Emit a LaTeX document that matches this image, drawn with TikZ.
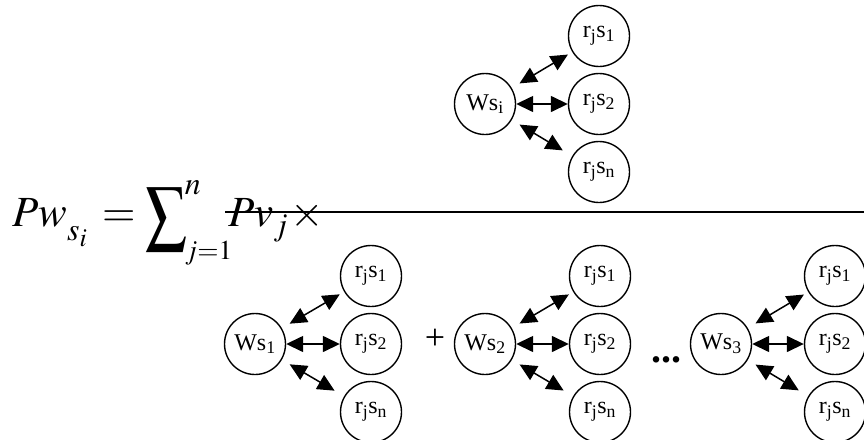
\documentclass[tikz,border=0pt]{standalone}
\usepackage{mathptmx}
\usepackage{graphicx}
\usepackage{fontspec}
\setmainfont{Liberation Serif}
\usetikzlibrary{arrows.meta}
\tikzset{
  circ/.style={circle, draw, line width=1.4pt, minimum size=61pt, inner sep=0pt,
    font=\fontsize{24}{26}\selectfont},
  biarrow/.style={{Triangle[length=17pt,width=16pt]}-{Triangle[length=17pt,width=16pt]}, line width=1.5pt},
  bar/.style={line width=1.5pt},
  sym/.style={inner sep=0pt, font=\fontsize{36}{38}\selectfont},
}
\begin{document}
\begin{tikzpicture}[x=1pt,y=-1pt]
\useasboundingbox (0,0) rectangle (864,439);
% equation
\node[anchor=base west, inner sep=0pt, font=\fontsize{43}{47}\selectfont] (eq) at (12,226)
  {$\displaystyle Pw_{\raisebox{-8pt}{$\scriptstyle s_i$}}\, =
   \mathop{\raisebox{-6pt}{\scalebox{0.95}[1.2]{$\displaystyle\sum$}}\kern-2pt}\nolimits_{\raisebox{-7pt}{\fontsize{37}{40}\selectfont$\scriptstyle j{=}1$}}^{\raisebox{5pt}{$\scriptstyle n$}}
   \!\! Pv_{\raisebox{-3pt}{$\scriptstyle j$}}\mkern1mu{\times}$};
\coordinate (barL) at (225,212);
\coordinate (barR) at (864,212);
\draw[bar] (barL) -- (barR);
% groups
\foreach \g/\wx/\rx/\yy/\lab in {t/485/599/104/i, a/255/371/344/1, b/485/600/344/2, c/721/835/344/3}{
  \node[circ] (w\g) at (\wx,\yy) {Ws\textsubscript{\lab}};
  \node[circ] (r\g1) at (\rx,\yy-68) {r\textsubscript{j}s\textsubscript{1}};
  \node[circ] (r\g2) at (\rx,\yy) {r\textsubscript{j}s\textsubscript{2}};
  \node[circ] (r\g3) at (\rx,\yy+68) {r\textsubscript{j}s\textsubscript{n}};
  \draw[biarrow, shorten <=9pt, shorten >=5pt] (w\g) -- (r\g1);
  \draw[biarrow] (w\g) -- (r\g2);
  \draw[biarrow, shorten <=9pt, shorten >=11pt] (w\g) -- (r\g3);
}
\node[sym] (plus) at (435,339) {+};
\node[sym, anchor=base, font=\fontsize{40}{44}\selectfont\bfseries] (dots) at (666,362) {...};
\end{tikzpicture}
\end{document}
